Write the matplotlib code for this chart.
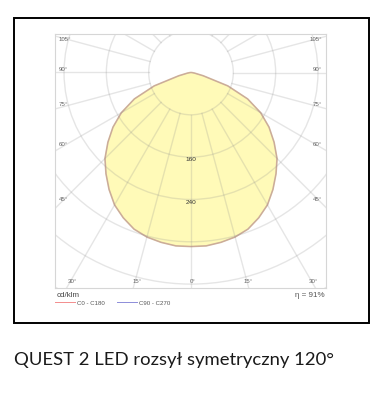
import numpy as np
import matplotlib
matplotlib.use("Agg")
import matplotlib.pyplot as plt
from matplotlib.patches import Circle, Rectangle, Polygon

# rozsył światła, cd/klm co 5 stopni (0 = w dół)
gamma = [0, 5, 10, 15, 20, 25, 30, 35, 40, 45, 50, 55, 60, 65, 70, 75, 80, 85, 90]
c0_c180 = [329, 329, 326, 322, 315, 303, 289, 270, 250, 230, 205, 180, 152, 118, 74, 24, 7, 2, 0]
c90_c270 = [329, 329, 326, 322, 315, 303, 289, 270, 250, 230, 205, 180, 152, 118, 74, 24, 7, 2, 0]

rings = [80, 160, 240, 320, 400, 480]
ring_labels = ["160", "240"]
side_angles = [105, 90, 75, 60, 45]
bottom_angles = [30, 15, 0, 15, 30]
efficiency = "η = 91%"
caption = "QUEST 2 LED rozsył symetryczny 120°"

W, H = 389, 403
fig = plt.figure(figsize=(W / 100, H / 100), dpi=100)

# ramka wokół wykresu
fig.patches.append(Rectangle((13.5 / W, 1 - 323 / H), (369 - 13.5) / W, (323 - 18) / H,
                             transform=fig.transFigure, fill=False, ec="black", lw=1.4))

ax = fig.add_axes([55 / W, 1 - 288 / H, 271 / W, 254 / H])
s = 0.529  # px na cd/klm
xmin, xmax = -136 / s, 135 / s
ymin, ymax = -215.5 / s, 38.5 / s
ax.set_xlim(xmin, xmax)
ax.set_ylim(ymin, ymax)
ax.set_xticks([])
ax.set_yticks([])
for sp in ax.spines.values():
    sp.set_color("#d6d6d6")
    sp.set_linewidth(0.8)


def to_xy(ang_deg, r):
    a = np.radians(ang_deg)
    return np.asarray(r) * np.sin(a), -np.asarray(r) * np.cos(a)


# bryła fotometryczna
g = np.array(gamma, float)
full_ang = np.concatenate([-g[::-1], g[1:]])
full_r = np.concatenate([np.array(c0_c180)[::-1], np.array(c0_c180)[1:]])
px, py = to_xy(full_ang, full_r)
ax.add_patch(Polygon(np.column_stack([px, py]), closed=True, fc="#fffab8",
                     ec="#d2bd9c", lw=1.2, zorder=1))

# siatka
gc = (0.55, 0.55, 0.55, 0.22)
for r in rings:
    ax.add_patch(Circle((0, 0), r, fill=False, ec=gc, lw=1.0, zorder=2))
for a in range(0, 360, 15):
    x0, y0 = to_xy(a, 80)
    x1, y1 = to_xy(a, 700)
    ax.plot([x0, x1], [y0, y1], color=gc, lw=1.0, zorder=2)

# krzywe C0-C180 i C90-C270
b_ang = np.concatenate([-g[::-1], g[1:]])
b_r = np.concatenate([np.array(c90_c270)[::-1], np.array(c90_c270)[1:]])
bx, by = to_xy(b_ang, b_r)
ln2, = ax.plot(bx, by, color="#7070d0", lw=0.7, alpha=0.12, zorder=3, label="C90 - C270")
ln1, = ax.plot(px, py, color="#f07070", lw=0.7, alpha=0.15, zorder=3, label="C0 - C180")

# opisy okręgów
for lab, r in zip(ring_labels, rings[1:3]):
    ax.text(0, -(r + 5), lab, ha="center", va="center", fontsize=4.6,
            color="#333333", family="Liberation Sans", zorder=4)

# opisy kątów
lc = "#666666"
xin = xmax - 10
for a in side_angles:
    y = -xin / np.tan(np.radians(a)) if a != 90 else 0
    y = min(y, ymax - 16) + 5
    ax.text(-(xmax - 5), y, f"{a}°", ha="left", va="center", fontsize=4.4,
            color=lc, family="Liberation Sans")
    ax.text(xmax - 7, y, f"{a}°", ha="right", va="center", fontsize=4.4,
            color=lc, family="Liberation Sans")
yb = ymin + 13
for i, a in enumerate(bottom_angles):
    sign = -1 if i < 2 else 1
    x = sign * (-yb) * np.tan(np.radians(a))
    x = float(np.clip(x, xmin + 18, xmax - 18))
    ax.text(x + 3, yb, f"{a}°", ha="center", va="center", fontsize=4.4,
            color=lc, family="Liberation Sans")

ax.text(0.007, -0.031, "cd/klm", transform=ax.transAxes, ha="left", va="center",
        fontsize=5.8, color="#444444", family="Liberation Sans")
ax.text(0.996, -0.031, efficiency, transform=ax.transAxes, ha="right", va="center",
        fontsize=5.8, color="#555555", family=["Liberation Sans", "DejaVu Sans"])

leg = ax.legend(handles=[ln1, ln2], ncol=2, loc="center left",
                bbox_to_anchor=(0.0, -0.059), frameon=False,
                handlelength=3.2, handletextpad=0.4, columnspacing=2.0,
                borderpad=0, borderaxespad=0,
                prop={"family": "Liberation Sans", "size": 4.4})
for h in leg.get_lines():
    h.set_alpha(0.8)
for t in leg.get_texts():
    t.set_color("#555555")

fig.text(14 / W, 1 - 365 / H, caption, ha="left", va="baseline", fontsize=13.3,
         color="#1a1a1a", family="Lato")

fig.savefig("out.png", dpi=100)
